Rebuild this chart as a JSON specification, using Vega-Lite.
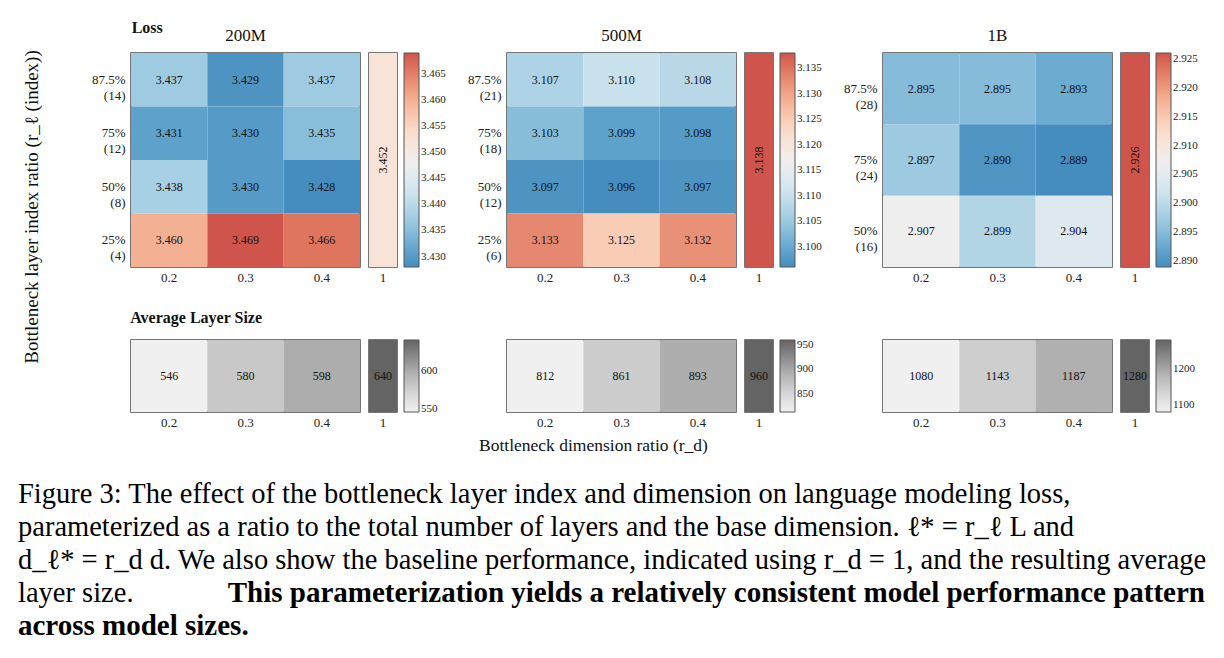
{
  "$schema": "https://vega.github.io/schema/vega-lite/v6.json",
  "background": "white",
  "padding": {"left": 18, "top": 20, "right": 4, "bottom": 4},
  "datasets": {
    "loss": [
      {"model": "200M", "layer": "87.5%|(14)", "rd": "0.2", "loss": 3.437},
      {"model": "200M", "layer": "87.5%|(14)", "rd": "0.3", "loss": 3.429},
      {"model": "200M", "layer": "87.5%|(14)", "rd": "0.4", "loss": 3.437},
      {"model": "200M", "layer": "75%|(12)", "rd": "0.2", "loss": 3.431},
      {"model": "200M", "layer": "75%|(12)", "rd": "0.3", "loss": 3.430},
      {"model": "200M", "layer": "75%|(12)", "rd": "0.4", "loss": 3.435},
      {"model": "200M", "layer": "50%|(8)", "rd": "0.2", "loss": 3.438},
      {"model": "200M", "layer": "50%|(8)", "rd": "0.3", "loss": 3.430},
      {"model": "200M", "layer": "50%|(8)", "rd": "0.4", "loss": 3.428},
      {"model": "200M", "layer": "25%|(4)", "rd": "0.2", "loss": 3.460},
      {"model": "200M", "layer": "25%|(4)", "rd": "0.3", "loss": 3.469},
      {"model": "200M", "layer": "25%|(4)", "rd": "0.4", "loss": 3.466},
      {"model": "500M", "layer": "87.5%|(21)", "rd": "0.2", "loss": 3.107},
      {"model": "500M", "layer": "87.5%|(21)", "rd": "0.3", "loss": 3.110},
      {"model": "500M", "layer": "87.5%|(21)", "rd": "0.4", "loss": 3.108},
      {"model": "500M", "layer": "75%|(18)", "rd": "0.2", "loss": 3.103},
      {"model": "500M", "layer": "75%|(18)", "rd": "0.3", "loss": 3.099},
      {"model": "500M", "layer": "75%|(18)", "rd": "0.4", "loss": 3.098},
      {"model": "500M", "layer": "50%|(12)", "rd": "0.2", "loss": 3.097},
      {"model": "500M", "layer": "50%|(12)", "rd": "0.3", "loss": 3.096},
      {"model": "500M", "layer": "50%|(12)", "rd": "0.4", "loss": 3.097},
      {"model": "500M", "layer": "25%|(6)", "rd": "0.2", "loss": 3.133},
      {"model": "500M", "layer": "25%|(6)", "rd": "0.3", "loss": 3.125},
      {"model": "500M", "layer": "25%|(6)", "rd": "0.4", "loss": 3.132},
      {"model": "1B", "layer": "87.5%|(28)", "rd": "0.2", "loss": 2.895},
      {"model": "1B", "layer": "87.5%|(28)", "rd": "0.3", "loss": 2.895},
      {"model": "1B", "layer": "87.5%|(28)", "rd": "0.4", "loss": 2.893},
      {"model": "1B", "layer": "75%|(24)", "rd": "0.2", "loss": 2.897},
      {"model": "1B", "layer": "75%|(24)", "rd": "0.3", "loss": 2.890},
      {"model": "1B", "layer": "75%|(24)", "rd": "0.4", "loss": 2.889},
      {"model": "1B", "layer": "50%|(16)", "rd": "0.2", "loss": 2.907},
      {"model": "1B", "layer": "50%|(16)", "rd": "0.3", "loss": 2.899},
      {"model": "1B", "layer": "50%|(16)", "rd": "0.4", "loss": 2.904}
    ],
    "baseline": [
      {"model": "200M", "rd": "1", "loss": 3.452},
      {"model": "500M", "rd": "1", "loss": 3.138},
      {"model": "1B", "rd": "1", "loss": 2.926}
    ],
    "size": [
      {"model": "200M", "rd": "0.2", "size": 546},
      {"model": "200M", "rd": "0.3", "size": 580},
      {"model": "200M", "rd": "0.4", "size": 598},
      {"model": "200M", "rd": "1", "size": 640},
      {"model": "500M", "rd": "0.2", "size": 812},
      {"model": "500M", "rd": "0.3", "size": 861},
      {"model": "500M", "rd": "0.4", "size": 893},
      {"model": "500M", "rd": "1", "size": 960},
      {"model": "1B", "rd": "0.2", "size": 1080},
      {"model": "1B", "rd": "0.3", "size": 1143},
      {"model": "1B", "rd": "0.4", "size": 1187},
      {"model": "1B", "rd": "1", "size": 1280}
    ],
    "caption": [
      {"line": 1, "emph": false, "text": "Figure 3:  The effect of the bottleneck layer index and dimension on language modeling loss,"},
      {"line": 2, "emph": false, "text": "parameterized as a ratio to the total number of layers and the base dimension.  ℓ* = r_ℓ L and"},
      {"line": 3, "emph": false, "text": "d_ℓ* = r_d d. We also show the baseline performance, indicated using r_d = 1, and the resulting average"},
      {"line": 4, "emph": false, "text": "layer size."},
      {"line": 4, "emph": true, "text": "This parameterization yields a relatively consistent model performance pattern"},
      {"line": 5, "emph": true, "text": "across model sizes."}
    ],
    "ylabel": [
      {"text": "Bottleneck layer index ratio (r_ℓ (index))"}
    ]
  },
  "vconcat": [
    {
      "hconcat": [
        {
          "width": 28,
          "height": 308,
          "view": {"stroke": null},
          "data": {"name": "ylabel"},
          "mark": {"type": "text", "angle": 270, "fontSize": 19, "font": "Liberation Serif", "color": "#111"},
          "encoding": {"text": {"field": "text"}}
        },
        {
          "columns": 3,
          "spacing": {"row": 25, "column": 20},
          "concat": [
            {
              "title": {"text": "Loss", "anchor": "start", "fontSize": 16, "fontWeight": "bold", "font": "Liberation Serif", "offset": -10, "dx": 41, "color": "#111"},
              "hconcat": [
                {
                  "title": {"text": "200M"},
                  "width": 229, "height": 214,
                  "data": {"name": "loss"},
                  "transform": [{"filter": "datum.model === '200M'"}],
                  "encoding": {
                    "x": {"field": "rd", "type": "ordinal", "axis": {"title": null, "labelAngle": 0}, "scale": {"paddingInner": 0, "paddingOuter": 0}},
                    "y": {"field": "layer", "type": "ordinal", "sort": "descending", "axis": {"title": null, "labelPadding": 6, "labelExpr": "split(datum.label, '|')"}, "scale": {"paddingInner": 0, "paddingOuter": 0}}
                  },
                  "layer": [
                    {"mark": "rect", "encoding": {"color": {"field": "loss", "type": "quantitative", "scale": {"scheme": {"name": "redblue", "extent": [0.85, 0.15]}, "zero": false, "nice": false}, "legend": {"values": [3.430, 3.435, 3.440, 3.445, 3.450, 3.455, 3.460, 3.465], "format": ".3f", "gradientLength": 214}}}},
                    {"mark": {"type": "text", "fontSize": 12}, "encoding": {"text": {"field": "loss", "format": ".3f"}}}
                  ]
                },
                {
                  "width": 28, "height": 214,
                  "data": {"name": "baseline"},
                  "transform": [{"filter": "datum.model === '200M'"}],
                  "encoding": {"x": {"field": "rd", "type": "ordinal", "axis": {"title": null, "labelAngle": 0}}},
                  "layer": [
                    {"mark": "rect", "encoding": {"color": {"field": "loss", "type": "quantitative"}}},
                    {"mark": {"type": "text", "fontSize": 12, "angle": 270}, "encoding": {"text": {"field": "loss", "format": ".3f"}}}
                  ]
                }
              ],
              "spacing": 7,
              "resolve": {"scale": {"color": "shared", "x": "independent", "y": "independent"}}
            },
            {
              "hconcat": [
                {
                  "title": {"text": "500M"},
                  "width": 229, "height": 214,
                  "data": {"name": "loss"},
                  "transform": [{"filter": "datum.model === '500M'"}],
                  "encoding": {
                    "x": {"field": "rd", "type": "ordinal", "axis": {"title": null, "labelAngle": 0}, "scale": {"paddingInner": 0, "paddingOuter": 0}},
                    "y": {"field": "layer", "type": "ordinal", "sort": "descending", "axis": {"title": null, "labelPadding": 6, "labelExpr": "split(datum.label, '|')"}, "scale": {"paddingInner": 0, "paddingOuter": 0}}
                  },
                  "layer": [
                    {"mark": "rect", "encoding": {"color": {"field": "loss", "type": "quantitative", "scale": {"scheme": {"name": "redblue", "extent": [0.85, 0.15]}, "zero": false, "nice": false}, "legend": {"values": [3.100, 3.105, 3.110, 3.115, 3.120, 3.125, 3.130, 3.135], "format": ".3f", "gradientLength": 214}}}},
                    {"mark": {"type": "text", "fontSize": 12}, "encoding": {"text": {"field": "loss", "format": ".3f"}}}
                  ]
                },
                {
                  "width": 28, "height": 214,
                  "data": {"name": "baseline"},
                  "transform": [{"filter": "datum.model === '500M'"}],
                  "encoding": {"x": {"field": "rd", "type": "ordinal", "axis": {"title": null, "labelAngle": 0}}},
                  "layer": [
                    {"mark": "rect", "encoding": {"color": {"field": "loss", "type": "quantitative"}}},
                    {"mark": {"type": "text", "fontSize": 12, "angle": 270}, "encoding": {"text": {"field": "loss", "format": ".3f"}}}
                  ]
                }
              ],
              "spacing": 7,
              "resolve": {"scale": {"color": "shared", "x": "independent", "y": "independent"}}
            },
            {
              "hconcat": [
                {
                  "title": {"text": "1B"},
                  "width": 229, "height": 214,
                  "data": {"name": "loss"},
                  "transform": [{"filter": "datum.model === '1B'"}],
                  "encoding": {
                    "x": {"field": "rd", "type": "ordinal", "axis": {"title": null, "labelAngle": 0}, "scale": {"paddingInner": 0, "paddingOuter": 0}},
                    "y": {"field": "layer", "type": "ordinal", "sort": "descending", "axis": {"title": null, "labelPadding": 6, "labelExpr": "split(datum.label, '|')"}, "scale": {"paddingInner": 0, "paddingOuter": 0}}
                  },
                  "layer": [
                    {"mark": "rect", "encoding": {"color": {"field": "loss", "type": "quantitative", "scale": {"scheme": {"name": "redblue", "extent": [0.85, 0.15]}, "zero": false, "nice": false}, "legend": {"values": [2.890, 2.895, 2.900, 2.905, 2.910, 2.915, 2.920, 2.925], "format": ".3f", "gradientLength": 214}}}},
                    {"mark": {"type": "text", "fontSize": 12}, "encoding": {"text": {"field": "loss", "format": ".3f"}}}
                  ]
                },
                {
                  "width": 28, "height": 214,
                  "data": {"name": "baseline"},
                  "transform": [{"filter": "datum.model === '1B'"}],
                  "encoding": {"x": {"field": "rd", "type": "ordinal", "axis": {"title": null, "labelAngle": 0}}},
                  "layer": [
                    {"mark": "rect", "encoding": {"color": {"field": "loss", "type": "quantitative"}}},
                    {"mark": {"type": "text", "fontSize": 12, "angle": 270}, "encoding": {"text": {"field": "loss", "format": ".3f"}}}
                  ]
                }
              ],
              "spacing": 7,
              "resolve": {"scale": {"color": "shared", "x": "independent", "y": "independent"}}
            },
            {
              "title": {"text": "Average Layer Size", "anchor": "start", "fontSize": 16, "fontWeight": "bold", "font": "Liberation Serif", "offset": 13, "color": "#111"},
              "hconcat": [
                {
                  "width": 229, "height": 72,
                  "data": {"name": "size"},
                  "transform": [{"filter": "datum.model === '200M' && datum.rd !== '1'"}],
                  "encoding": {"x": {"field": "rd", "type": "ordinal", "axis": {"title": null, "labelAngle": 0}, "scale": {"paddingInner": 0, "paddingOuter": 0}}},
                  "layer": [
                    {"mark": "rect", "encoding": {"color": {"field": "size", "type": "quantitative", "scale": {"range": ["#f0f0f0", "#d7d7d7", "#b6b6b6", "#8d8d8d", "#646464"], "zero": false, "nice": false}, "legend": {"values": [550, 600], "format": "d", "gradientLength": 72}}}},
                    {"mark": {"type": "text", "fontSize": 12}, "encoding": {"text": {"field": "size", "format": "d"}}}
                  ]
                },
                {
                  "width": 28, "height": 72,
                  "data": {"name": "size"},
                  "transform": [{"filter": "datum.model === '200M' && datum.rd === '1'"}],
                  "encoding": {"x": {"field": "rd", "type": "ordinal", "axis": {"title": null, "labelAngle": 0}}},
                  "layer": [
                    {"mark": "rect", "encoding": {"color": {"field": "size", "type": "quantitative"}}},
                    {"mark": {"type": "text", "fontSize": 12}, "encoding": {"text": {"field": "size", "format": "d"}}}
                  ]
                }
              ],
              "spacing": 7,
              "resolve": {"scale": {"color": "shared", "x": "independent"}}
            },
            {
              "hconcat": [
                {
                  "width": 229, "height": 72,
                  "data": {"name": "size"},
                  "transform": [{"filter": "datum.model === '500M' && datum.rd !== '1'"}],
                  "encoding": {"x": {"field": "rd", "type": "ordinal", "axis": {"title": "Bottleneck dimension ratio (r_d)", "labelAngle": 0, "titleX": 86, "titleFontSize": 17.5, "titlePadding": 7}, "scale": {"paddingInner": 0, "paddingOuter": 0}}},
                  "layer": [
                    {"mark": "rect", "encoding": {"color": {"field": "size", "type": "quantitative", "scale": {"range": ["#f0f0f0", "#d7d7d7", "#b6b6b6", "#8d8d8d", "#646464"], "zero": false, "nice": false}, "legend": {"values": [850, 900, 950], "format": "d", "gradientLength": 72}}}},
                    {"mark": {"type": "text", "fontSize": 12}, "encoding": {"text": {"field": "size", "format": "d"}}}
                  ]
                },
                {
                  "width": 28, "height": 72,
                  "data": {"name": "size"},
                  "transform": [{"filter": "datum.model === '500M' && datum.rd === '1'"}],
                  "encoding": {"x": {"field": "rd", "type": "ordinal", "axis": {"title": null, "labelAngle": 0}}},
                  "layer": [
                    {"mark": "rect", "encoding": {"color": {"field": "size", "type": "quantitative"}}},
                    {"mark": {"type": "text", "fontSize": 12}, "encoding": {"text": {"field": "size", "format": "d"}}}
                  ]
                }
              ],
              "spacing": 7,
              "resolve": {"scale": {"color": "shared", "x": "independent"}}
            },
            {
              "hconcat": [
                {
                  "width": 229, "height": 72,
                  "data": {"name": "size"},
                  "transform": [{"filter": "datum.model === '1B' && datum.rd !== '1'"}],
                  "encoding": {"x": {"field": "rd", "type": "ordinal", "axis": {"title": null, "labelAngle": 0}, "scale": {"paddingInner": 0, "paddingOuter": 0}}},
                  "layer": [
                    {"mark": "rect", "encoding": {"color": {"field": "size", "type": "quantitative", "scale": {"range": ["#f0f0f0", "#d7d7d7", "#b6b6b6", "#8d8d8d", "#646464"], "zero": false, "nice": false}, "legend": {"values": [1100, 1200], "format": "d", "gradientLength": 72}}}},
                    {"mark": {"type": "text", "fontSize": 12}, "encoding": {"text": {"field": "size", "format": "d"}}}
                  ]
                },
                {
                  "width": 28, "height": 72,
                  "data": {"name": "size"},
                  "transform": [{"filter": "datum.model === '1B' && datum.rd === '1'"}],
                  "encoding": {"x": {"field": "rd", "type": "ordinal", "axis": {"title": null, "labelAngle": 0}}},
                  "layer": [
                    {"mark": "rect", "encoding": {"color": {"field": "size", "type": "quantitative"}}},
                    {"mark": {"type": "text", "fontSize": 12}, "encoding": {"text": {"field": "size", "format": "d"}}}
                  ]
                }
              ],
              "spacing": 7,
              "resolve": {"scale": {"color": "shared", "x": "independent"}}
            }
          ],
          "resolve": {"scale": {"color": "independent", "x": "independent", "y": "independent"}, "legend": {"color": "independent"}}
        }
      ],
      "spacing": 44,
      "resolve": {"scale": {"color": "independent", "x": "independent", "y": "independent"}, "legend": {"color": "independent"}}
    },
    {
      "width": 1187,
      "height": 164,
      "view": {"stroke": null},
      "data": {"name": "caption"},
      "encoding": {
        "y": {"field": "line", "type": "ordinal", "axis": null, "scale": {"type": "point", "padding": 0.5}},
        "text": {"field": "text"}
      },
      "layer": [
        {"transform": [{"filter": "!datum.emph"}], "mark": {"type": "text", "align": "left", "fontSize": 28.5, "font": "Liberation Serif", "color": "black"}, "encoding": {"x": {"value": 0}}},
        {"transform": [{"filter": "datum.emph && datum.line === 4"}], "mark": {"type": "text", "align": "right", "fontSize": 29, "fontWeight": "bold", "font": "Liberation Serif", "color": "black"}, "encoding": {"x": {"value": "width"}}},
        {"transform": [{"filter": "datum.emph && datum.line === 5"}], "mark": {"type": "text", "align": "left", "fontSize": 29, "fontWeight": "bold", "font": "Liberation Serif", "color": "black"}, "encoding": {"x": {"value": 0}}}
      ]
    }
  ],
  "spacing": 23,
  "resolve": {"scale": {"color": "independent", "x": "independent", "y": "independent"}, "legend": {"color": "independent"}},
  "config": {
    "font": "Liberation Serif",
    "view": {"stroke": "#4a4a4a", "strokeWidth": 1.5},
    "text": {"font": "Liberation Serif", "color": "#111"},
    "axis": {"ticks": false, "domain": false, "grid": false, "labelFont": "Liberation Serif", "labelFontSize": 13, "labelColor": "#222", "labelPadding": 4, "labelLineHeight": 16, "titleFont": "Liberation Serif", "titleFontSize": 16, "titleFontWeight": "normal", "titleColor": "#111", "titlePadding": 8},
    "legend": {"title": null, "gradientThickness": 15, "gradientStrokeColor": "#555", "gradientStrokeWidth": 1, "labelFont": "Liberation Serif", "labelFontSize": 11, "labelColor": "#222", "labelOverlap": false, "offset": 6, "padding": 0, "labelOffset": 6},
    "title": {"font": "Liberation Serif", "fontSize": 17, "fontWeight": "normal", "color": "#111", "offset": 8}
  }
}
